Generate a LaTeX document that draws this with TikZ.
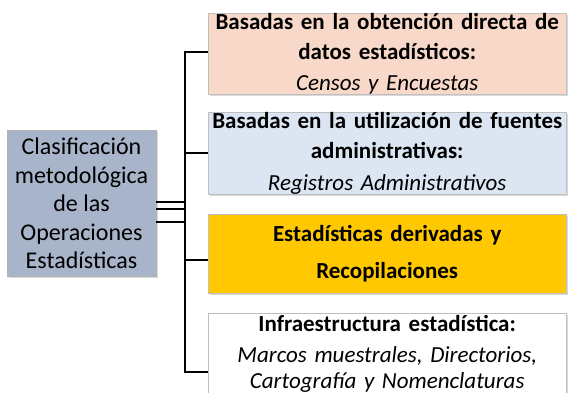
\documentclass[tikz,border=0pt]{standalone}
\usepackage{fontspec}
\setmainfont{Carlito}
\usetikzlibrary{shadows}

\definecolor{rootgray}{RGB}{168,180,202}
\definecolor{peach}{RGB}{248,216,200}
\definecolor{paleblue}{RGB}{220,230,242}
\definecolor{gold}{RGB}{255,200,0}

\begin{document}
\begin{tikzpicture}[x=1pt,y=-1pt,
    box/.style={rectangle,draw=black!25,minimum width=358pt,minimum height=81pt,
      text width=356pt,align=center,inner sep=0pt,anchor=west,
      drop shadow={shadow xshift=1.5pt,shadow yshift=-1.5pt,opacity=0.3},
      font=\fontsize{23}{30}\selectfont},
    link/.style={line width=2pt}]
\useasboundingbox (0,0) rectangle (568,392);

    \node[rectangle,draw=black!30,fill=rootgray,minimum width=149pt,minimum height=146pt,
      align=center,inner sep=0pt,font=\fontsize{24}{28.5}\selectfont,
      drop shadow={shadow xshift=1.5pt,shadow yshift=-1.5pt,opacity=0.3}] (root) at (81.5,203.5)
      {Clasificación\\metodológica\\de las\\Operaciones\\Estadísticas};

    \node[box,fill=peach] (censos) at (208,53.5)
      {\textbf{Basadas en la obtención directa de}\\\textbf{datos estadísticos:}\\[1pt]\textit{Censos y Encuestas}};
    \node[box,fill=paleblue] (registros) at (208,153.5)
      {\textbf{Basadas en la utilización de fuentes}\\\textbf{administrativas:}\\[2pt]\textit{Registros Administrativos}};
    \node[box,fill=gold,minimum height=79pt] (derivadas) at (208,253.5)
      {\textbf{Estadísticas derivadas y}\\[7pt]\textbf{Recopilaciones}};
    \node[box,fill=white,minimum height=82pt] (infra) at (208,354)
      {\textbf{Infraestructura estadística:}\\[1pt]\textit{Marcos muestrales, Directorios,}\\[-4pt]\textit{Cartografía y Nomenclaturas}};

% spine
\coordinate (t1) at (185,52);
\coordinate (t2) at (185,153);
\coordinate (t3) at (185,260);
\coordinate (t4) at (185,372);
\coordinate (j1) at (185,202);
\coordinate (j2) at (185,209);
\coordinate (j3) at (185,222);

\draw[link] (censos.west |- t1) -- (t1) -- (t4) -- (infra.west |- t4);
\draw[link] (t2) -- (registros.west |- t2);
\draw[link] (t3) -- (derivadas.west |- t3);
\foreach \j in {j1,j2,j3}
  \draw[link] (root.east |- \j) -- (\j);
\end{tikzpicture}
\end{document}
